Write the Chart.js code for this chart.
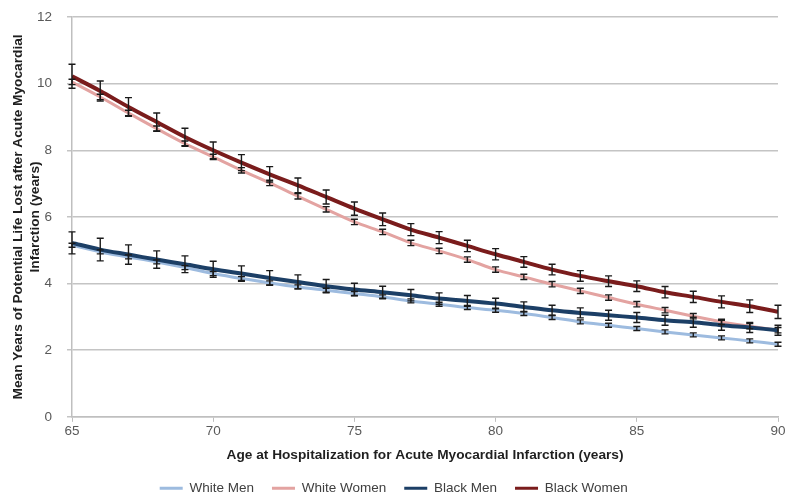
<!DOCTYPE html>
<html>
<head>
<meta charset="utf-8">
<script src="https://cdn.jsdelivr.net/npm/chart.js@4.4.1/dist/chart.umd.min.js"></script>
<style>
  html, body { margin: 0; padding: 0; background: #fff; }
  #wrap { width: 798px; height: 503px; position: relative; }
</style>
</head>
<body>
<div id="wrap"><canvas id="yplChart"></canvas></div>
<script>
// Tuổi lúc nhập viện (trục x)
const ages = [65, 66, 67, 68, 69, 70, 71, 72, 73, 74, 75, 76, 77, 78, 79, 80, 81, 82, 83, 84, 85, 86, 87, 88, 89, 90];

// Số năm sống bị mất trung bình cho từng nhóm
const whiteMen   = [5.15, 4.95, 4.80, 4.65, 4.48, 4.30, 4.15, 4.02, 3.90, 3.80, 3.70, 3.60, 3.48, 3.38, 3.28, 3.20, 3.10, 2.98, 2.85, 2.75, 2.65, 2.55, 2.46, 2.37, 2.28, 2.18];
const whiteWomen = [10.05, 9.60, 9.12, 8.65, 8.20, 7.80, 7.40, 7.02, 6.62, 6.23, 5.85, 5.55, 5.22, 4.98, 4.72, 4.42, 4.20, 3.98, 3.78, 3.58, 3.38, 3.20, 3.02, 2.85, 2.72, 2.60];
const blackMen   = [5.22, 5.02, 4.87, 4.72, 4.58, 4.43, 4.30, 4.17, 4.05, 3.92, 3.82, 3.74, 3.65, 3.55, 3.48, 3.40, 3.30, 3.20, 3.12, 3.05, 2.98, 2.90, 2.84, 2.75, 2.68, 2.60];
const blackWomen = [10.22, 9.78, 9.30, 8.85, 8.40, 8.00, 7.63, 7.28, 6.95, 6.60, 6.25, 5.93, 5.62, 5.38, 5.13, 4.88, 4.65, 4.42, 4.23, 4.07, 3.92, 3.74, 3.60, 3.45, 3.32, 3.15];

// Sai số (nửa độ dài thanh lỗi)
const whiteMenErr   = [0.06, 0.06, 0.06, 0.06, 0.06, 0.06, 0.06, 0.06, 0.06, 0.06, 0.06, 0.06, 0.06, 0.06, 0.06, 0.06, 0.06, 0.06, 0.06, 0.06, 0.06, 0.06, 0.06, 0.06, 0.06, 0.06];
const whiteWomenErr = [0.08, 0.08, 0.08, 0.08, 0.08, 0.08, 0.08, 0.08, 0.08, 0.08, 0.08, 0.08, 0.08, 0.08, 0.08, 0.08, 0.08, 0.08, 0.08, 0.08, 0.08, 0.08, 0.08, 0.08, 0.08, 0.08];
const blackMenErr   = [0.33, 0.34, 0.29, 0.26, 0.25, 0.24, 0.23, 0.22, 0.21, 0.20, 0.19, 0.18, 0.17, 0.17, 0.16, 0.16, 0.15, 0.15, 0.15, 0.15, 0.15, 0.15, 0.15, 0.15, 0.15, 0.15];
const blackWomenErr = [0.36, 0.30, 0.28, 0.27, 0.26, 0.25, 0.24, 0.23, 0.22, 0.21, 0.20, 0.19, 0.18, 0.18, 0.17, 0.17, 0.16, 0.16, 0.16, 0.16, 0.16, 0.17, 0.17, 0.18, 0.19, 0.20];

const yTicks = [0, 2, 4, 6, 8, 10, 12];
const xTicks = [65, 70, 75, 80, 85, 90];

const toPoints = (vals) => vals.map((v, i) => ({ x: ages[i], y: v }));

// Vẽ thanh lỗi qua các trục của Chart.js
const errorBars = {
  id: 'errorBars',
  afterDatasetsDraw(chart) {
    const { ctx, scales: { x, y } } = chart;
    ctx.save();
    ctx.strokeStyle = '#1a1a1a';
    ctx.lineWidth = 1.4;
    chart.data.datasets.forEach((ds) => {
      if (!ds.errors) return;
      ds.data.forEach((p, i) => {
        const px = x.getPixelForValue(p.x);
        const top = y.getPixelForValue(p.y + ds.errors[i]);
        const bot = y.getPixelForValue(p.y - ds.errors[i]);
        ctx.beginPath();
        ctx.moveTo(px, top); ctx.lineTo(px, bot);
        ctx.moveTo(px - 3.5, top); ctx.lineTo(px + 3.5, top);
        ctx.moveTo(px - 3.5, bot); ctx.lineTo(px + 3.5, bot);
        ctx.stroke();
      });
    });
    ctx.restore();
  }
};

const font = 'Liberation Sans, Arial, sans-serif';

new Chart(document.getElementById('yplChart'), {
  type: 'line',
  data: {
    datasets: [
      { label: 'White Men', data: toPoints(whiteMen), errors: whiteMenErr, borderColor: '#9dbbdf', borderWidth: 3, order: 4 },
      { label: 'White Women', data: toPoints(whiteWomen), errors: whiteWomenErr, borderColor: '#e3a3a1', borderWidth: 3, order: 3 },
      { label: 'Black Men', data: toPoints(blackMen), errors: blackMenErr, borderColor: '#1c3f66', borderWidth: 4, order: 2 },
      { label: 'Black Women', data: toPoints(blackWomen), errors: blackWomenErr, borderColor: '#7a1c1c', borderWidth: 4, order: 1 },
    ]
  },
  options: {
    responsive: true,
    maintainAspectRatio: false,
    animation: false,
    elements: {
      point: { radius: 0 },
      line: { tension: 0.3, fill: false }
    },
    layout: { padding: { top: 17, right: 20, left: 9.5, bottom: -2 } },
    plugins: {
      tooltip: { enabled: false },
      legend: {
        position: 'bottom',
        labels: {
          sort: (a, b) => a.datasetIndex - b.datasetIndex,
          boxWidth: 23,
          boxHeight: 3,
          padding: 18,
          color: '#404040',
          font: { family: font, size: 13.5 },
          generateLabels(chart) {
            return chart.data.datasets.map((ds, i) => ({
              text: ds.label,
              fillStyle: ds.borderColor,
              strokeStyle: ds.borderColor,
              lineWidth: 0,
              datasetIndex: i,
              fontColor: '#404040'
            }));
          }
        }
      }
    },
    scales: {
      x: {
        type: 'linear',
        min: 65,
        max: 90,
        afterBuildTicks: (axis) => { axis.ticks = xTicks.map(v => ({ value: v })); },
        ticks: { color: '#595959', font: { family: font, size: 13.5 }, padding: 1 },
        grid: { drawOnChartArea: false, tickLength: 5, color: '#bfbfbf' },
        border: { color: '#bfbfbf', width: 1.5 },
        title: {
          display: true,
          text: 'Age at Hospitalization for Acute Myocardial Infarction (years)',
          color: '#1f1f1f',
          font: { family: font, size: 13.7, weight: 'bold' },
          padding: { top: 7, bottom: 0 }
        }
      },
      y: {
        min: 0,
        max: 12,
        afterBuildTicks: (axis) => { axis.ticks = yTicks.map(v => ({ value: v })); },
        afterFit: (axis) => { axis.width = 62.5; },
        ticks: { color: '#595959', font: { family: font, size: 13.5 }, padding: 0 },
        // vạch chia dài 20px nhưng chỉ vẽ 5px sát trục, để nhãn cách trục như bản gốc
        grid: { color: '#c4c4c4', lineWidth: 1.5, tickLength: 20, tickBorderDash: [5, 15], tickBorderDashOffset: 5 },
        border: { color: '#bfbfbf', width: 1.5 },
        title: {
          display: true,
          text: ['Mean Years of Potential Life Lost after Acute Myocardial', 'Infarction (years)'],
          color: '#1f1f1f',
          font: { family: font, size: 13.7, weight: 'bold', lineHeight: 1.24 },
          padding: { top: 0, bottom: 0 }
        }
      }
    }
  },
  plugins: [errorBars]
});
</script>
</body>
</html>
